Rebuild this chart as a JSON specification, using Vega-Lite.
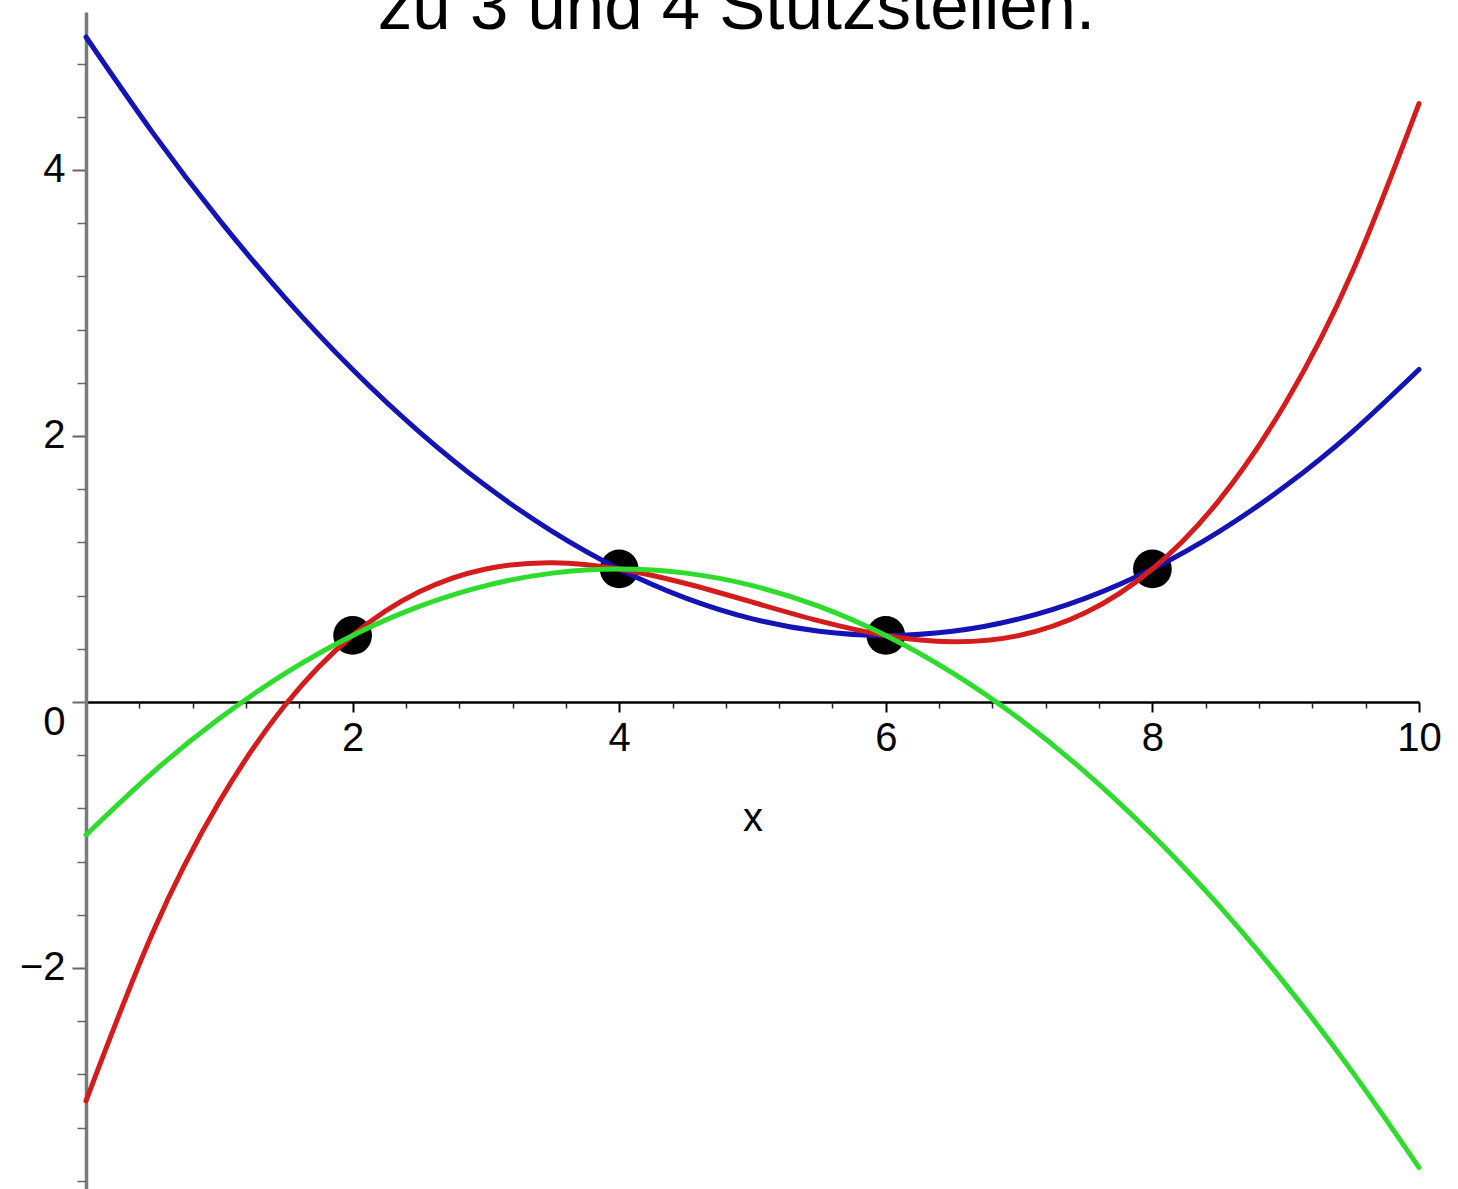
{
  "$schema": "https://vega.github.io/schema/vega-lite/v6.json",
  "width": 1333,
  "height": 1177,
  "autosize": {"type": "none"},
  "padding": {"left": 86, "top": 12, "right": 39, "bottom": 0},
  "background": "white",
  "title": {
    "text": "zu 3 und 4 Stützstellen.",
    "font": "Liberation Sans",
    "fontSize": 69,
    "fontWeight": "normal",
    "color": "black",
    "anchor": "middle",
    "frame": "group",
    "baseline": "alphabetic",
    "offset": -18,
    "dy": 68,
    "dx": -16
  },
  "datasets": {
    "curves": [
      {"curve": "blue", "x": 0, "y": 5}, {"curve": "blue", "x": 0.5, "y": 4.28125}, {"curve": "blue", "x": 1, "y": 3.625}, {"curve": "blue", "x": 1.5, "y": 3.03125}, {"curve": "blue", "x": 2, "y": 2.5}, {"curve": "blue", "x": 2.5, "y": 2.03125}, {"curve": "blue", "x": 3, "y": 1.625}, {"curve": "blue", "x": 3.5, "y": 1.28125}, {"curve": "blue", "x": 4, "y": 1}, {"curve": "blue", "x": 4.5, "y": 0.78125}, {"curve": "blue", "x": 5, "y": 0.625}, {"curve": "blue", "x": 5.5, "y": 0.53125}, {"curve": "blue", "x": 6, "y": 0.5}, {"curve": "blue", "x": 6.5, "y": 0.53125}, {"curve": "blue", "x": 7, "y": 0.625}, {"curve": "blue", "x": 7.5, "y": 0.78125}, {"curve": "blue", "x": 8, "y": 1}, {"curve": "blue", "x": 8.5, "y": 1.28125}, {"curve": "blue", "x": 9, "y": 1.625}, {"curve": "blue", "x": 9.5, "y": 2.03125}, {"curve": "blue", "x": 10, "y": 2.5},
      {"curve": "red", "x": 0, "y": -3}, {"curve": "red", "x": 0.5, "y": -1.734375}, {"curve": "red", "x": 1, "y": -0.75}, {"curve": "red", "x": 1.5, "y": -0.015625}, {"curve": "red", "x": 2, "y": 0.5}, {"curve": "red", "x": 2.5, "y": 0.828125}, {"curve": "red", "x": 3, "y": 1}, {"curve": "red", "x": 3.5, "y": 1.046875}, {"curve": "red", "x": 4, "y": 1}, {"curve": "red", "x": 4.5, "y": 0.890625}, {"curve": "red", "x": 5, "y": 0.75}, {"curve": "red", "x": 5.5, "y": 0.609375}, {"curve": "red", "x": 6, "y": 0.5}, {"curve": "red", "x": 6.5, "y": 0.453125}, {"curve": "red", "x": 7, "y": 0.5}, {"curve": "red", "x": 7.5, "y": 0.671875}, {"curve": "red", "x": 8, "y": 1}, {"curve": "red", "x": 8.5, "y": 1.515625}, {"curve": "red", "x": 9, "y": 2.25}, {"curve": "red", "x": 9.5, "y": 3.234375}, {"curve": "red", "x": 10, "y": 4.5},
      {"curve": "green", "x": 0, "y": -1}, {"curve": "green", "x": 0.5, "y": -0.53125}, {"curve": "green", "x": 1, "y": -0.125}, {"curve": "green", "x": 1.5, "y": 0.21875}, {"curve": "green", "x": 2, "y": 0.5}, {"curve": "green", "x": 2.5, "y": 0.71875}, {"curve": "green", "x": 3, "y": 0.875}, {"curve": "green", "x": 3.5, "y": 0.96875}, {"curve": "green", "x": 4, "y": 1}, {"curve": "green", "x": 4.5, "y": 0.96875}, {"curve": "green", "x": 5, "y": 0.875}, {"curve": "green", "x": 5.5, "y": 0.71875}, {"curve": "green", "x": 6, "y": 0.5}, {"curve": "green", "x": 6.5, "y": 0.21875}, {"curve": "green", "x": 7, "y": -0.125}, {"curve": "green", "x": 7.5, "y": -0.53125}, {"curve": "green", "x": 8, "y": -1}, {"curve": "green", "x": 8.5, "y": -1.53125}, {"curve": "green", "x": 9, "y": -2.125}, {"curve": "green", "x": 9.5, "y": -2.78125}, {"curve": "green", "x": 10, "y": -3.5}
    ],
    "points": [
      {"x": 2, "y": 0.5}, {"x": 4, "y": 1}, {"x": 6, "y": 0.5}, {"x": 8, "y": 1}
    ]
  },
  "layer": [
    {
      "data": {"name": "points"},
      "mark": {"type": "point", "shape": "circle", "filled": true, "color": "black", "opacity": 1, "size": 1500},
      "encoding": {
        "x": {
          "field": "x", "type": "quantitative",
          "scale": {"domain": [0, 10], "nice": false, "zero": false},
          "axis": {
            "orient": "bottom", "offset": -487, "values": [2, 4, 6, 8, 10], "format": "d",
            "grid": false, "domain": true, "domainColor": "black", "domainWidth": 2.5,
            "ticks": true, "tickSize": 10, "tickWidth": 2, "tickColor": "black",
            "labelFont": "Liberation Sans", "labelFontSize": 40, "labelColor": "black", "labelPadding": 6,
            "labelOverlap": false, "labelFlush": false, "labelBound": false,
            "title": "x", "titleFont": "Liberation Sans", "titleFontSize": 40, "titleFontWeight": "normal", "titleColor": "black", "titlePadding": 40
          }
        },
        "y": {
          "field": "y", "type": "quantitative",
          "scale": {"domain": [-3.662, 5.188], "nice": false, "zero": false},
          "axis": {
            "orient": "left", "values": [-2, 0, 2, 4], "format": "d",
            "grid": false, "domain": true, "domainColor": "#7a7a7a", "domainWidth": 3.5,
            "ticks": true, "tickSize": 14, "tickWidth": 2, "tickColor": "#666666",
            "labelFont": "Liberation Sans", "labelFontSize": 40, "labelColor": "black", "labelPadding": 7,
            "labelOverlap": false, "labelBound": false, "labelFlush": false,
            "labelOffset": {"condition": {"test": "datum.value === 0", "value": 21}, "value": 0},
            "title": null
          }
        }
      }
    },
    {
      "data": {"name": "curves"},
      "transform": [{"filter": "datum.curve === 'blue'"}],
      "mark": {"type": "line", "color": "#1414b4", "strokeWidth": 5, "interpolate": "natural", "strokeCap": "round"},
      "encoding": {
        "x": {
          "field": "x", "type": "quantitative",
          "axis": {
            "orient": "bottom", "offset": -487,
            "values": [0.4, 0.8, 1.2, 1.6, 2.4, 2.8, 3.2, 3.6, 4.4, 4.8, 5.2, 5.6, 6.4, 6.8, 7.2, 7.6, 8.4, 8.8, 9.2, 9.6],
            "grid": false, "domain": false, "labels": false, "ticks": true, "tickSize": 6, "tickWidth": 1.5, "tickColor": "#222222", "title": null
          }
        },
        "y": {
          "field": "y", "type": "quantitative",
          "axis": {
            "orient": "left",
            "values": [-3.6, -3.2, -2.8, -2.4, -1.6, -1.2, -0.8, -0.4, 0.4, 0.8, 1.2, 1.6, 2.4, 2.8, 3.2, 3.6, 4.4, 4.8],
            "grid": false, "domain": false, "labels": false, "ticks": true, "tickSize": 9, "tickWidth": 1.5, "tickColor": "#666666", "title": null
          }
        }
      }
    },
    {
      "data": {"name": "curves"},
      "transform": [{"filter": "datum.curve === 'red'"}],
      "mark": {"type": "line", "color": "#d41c1c", "strokeWidth": 5, "interpolate": "natural", "strokeCap": "round"},
      "encoding": {
        "x": {"field": "x", "type": "quantitative", "axis": null},
        "y": {"field": "y", "type": "quantitative", "axis": null}
      }
    },
    {
      "data": {"name": "curves"},
      "transform": [{"filter": "datum.curve === 'green'"}],
      "mark": {"type": "line", "color": "#2edc2e", "strokeWidth": 5, "interpolate": "natural", "strokeCap": "round"},
      "encoding": {
        "x": {"field": "x", "type": "quantitative", "axis": null},
        "y": {"field": "y", "type": "quantitative", "axis": null}
      }
    }
  ],
  "resolve": {"axis": {"x": "independent", "y": "independent"}},
  "config": {"view": {"stroke": null}}
}
